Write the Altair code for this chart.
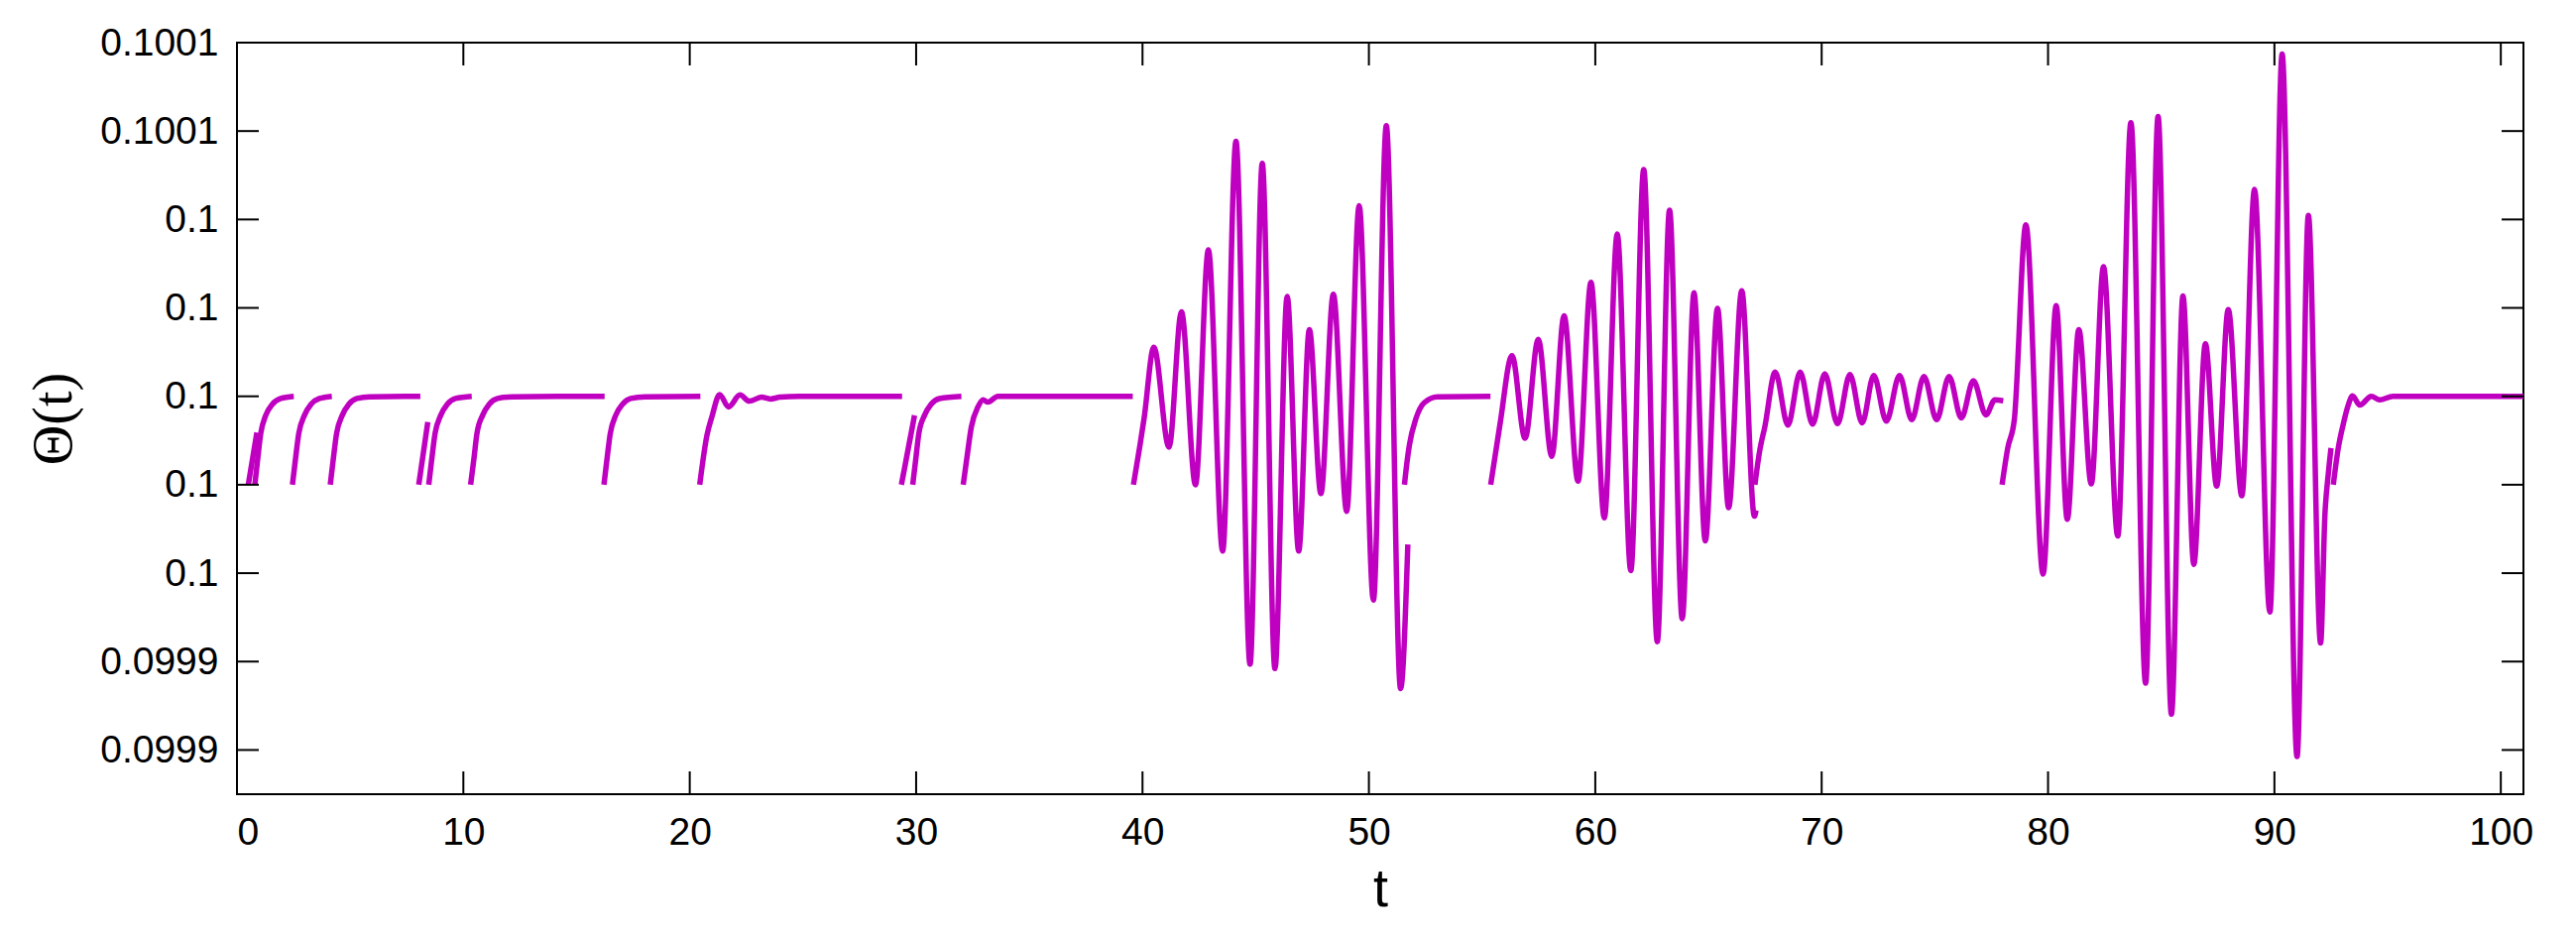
import altair as alt
import pandas as pd

# ---- data (t, Theta(t)), one list pair per drawn piece ----
S01_T = [0.50, 0.88]
S01_Y = [0.0999800, 0.0999918]

S02_T = [0.79, 0.91, 1.05, 1.27, 1.56, 1.93, 2.51]
S02_Y = [0.0999800, 0.0999856, 0.0999916, 0.0999957, 0.0999982, 0.0999995, 0.1000000]

S03_T = [2.45, 2.58, 2.73, 2.98, 3.27, 3.64, 4.19]
S03_Y = [0.0999800, 0.0999856, 0.0999916, 0.0999957, 0.0999982, 0.0999995, 0.1000000]

S04_T = [4.12, 4.25, 4.40, 4.65, 4.94, 5.30, 5.87, 8.10]
S04_Y = [0.0999800, 0.0999856, 0.0999916, 0.0999957, 0.0999982, 0.0999995, 0.0999999, 0.1000000]

S05_T = [8.03, 8.43]
S05_Y = [0.0999800, 0.0999942]

S06_T = [8.47, 8.60, 8.75, 9.00, 9.29, 9.65, 10.37]
S06_Y = [0.0999800, 0.0999856, 0.0999916, 0.0999957, 0.0999982, 0.0999995, 0.1000000]

S07_T = [10.32, 10.46, 10.60, 10.85, 11.14, 11.51, 12.15, 16.24]
S07_Y = [0.0999800, 0.0999856, 0.0999916, 0.0999957, 0.0999982, 0.0999995, 0.0999999, 0.1000000]

S08_T = [16.21, 16.34, 16.49, 16.73, 17.03, 17.39, 18.03, 20.47]
S08_Y = [0.0999800, 0.0999856, 0.0999916, 0.0999957, 0.0999982, 0.0999995, 0.0999999, 0.1000000]

S09_T = [20.44, 20.76, 20.98, 21.32, 21.71, 22.22, 22.63, 23.17, 23.56, 23.98, 24.85, 29.38]
S09_Y = [0.0999800, 0.0999912, 0.0999954, 0.1000004, 0.0999976, 0.1000003, 0.0999989,
         0.0999998, 0.0999994, 0.0999998, 0.1000000, 0.1000000]

S10_T = [29.35, 29.93]
S10_Y = [0.0999800, 0.0999957]

S11_T = [29.85, 29.98, 30.12, 30.37, 30.66, 31.03, 32.00]
S11_Y = [0.0999800, 0.0999856, 0.0999916, 0.0999957, 0.0999982, 0.0999995, 0.1000000]

S12_T = [32.08, 32.23, 32.44, 32.73, 32.96, 33.17, 33.61, 39.57]
S12_Y = [0.0999800, 0.0999856, 0.0999931, 0.0999976, 0.0999992, 0.0999987, 0.1000000, 0.1000000]

S13_T = [39.60, 39.89, 40.07, 40.50, 41.17, 41.72, 42.34, 42.91, 43.54, 44.13, 44.75, 45.29,
         45.85, 46.39, 46.90, 47.37, 47.88, 48.43, 49.02, 49.57, 50.20, 50.77, 51.40, 51.72]
S13_Y = [0.0999800, 0.0999890, 0.0999950, 0.1000111, 0.0999885, 0.1000191, 0.0999800, 0.1000331,
         0.0999650, 0.1000577, 0.0999394, 0.1000527, 0.0999384, 0.1000226, 0.0999650, 0.1000151,
         0.0999780, 0.1000231, 0.0999740, 0.1000431, 0.0999539, 0.1000612, 0.0999339, 0.0999665]

S14_T = [51.57, 51.68, 51.79, 52.08, 52.45, 53.03, 55.37]
S14_Y = [0.0999800, 0.0999850, 0.0999890, 0.0999950, 0.0999986, 0.0999999, 0.1000000]

S15_T = [55.38, 55.80, 56.32, 56.90, 57.48, 58.08, 58.62, 59.24, 59.81, 60.40, 60.97, 61.57,
         62.14, 62.74, 63.28, 63.84, 64.36, 64.86, 65.40, 65.89, 66.47, 67.03, 67.10]
S15_Y = [0.0999800, 0.0999940, 0.1000092, 0.0999905, 0.1000129, 0.0999864, 0.1000182, 0.0999808,
         0.1000258, 0.0999725, 0.1000367, 0.0999606, 0.1000513, 0.0999445, 0.1000421, 0.0999497,
         0.1000234, 0.0999673, 0.1000199, 0.0999748, 0.1000239, 0.0999729, 0.0999742]

S16_T = [67.05, 67.27, 67.49, 67.95, 68.51, 69.05, 69.60, 70.14, 70.70, 71.25, 71.79, 72.30,
         72.86, 73.44, 73.98, 74.52, 75.08, 75.63, 76.17, 76.70, 77.26, 77.65, 78.02]
S16_Y = [0.0999800, 0.0999879, 0.0999931, 0.1000055, 0.0999935, 0.1000055, 0.0999937, 0.1000051,
         0.0999938, 0.1000049, 0.0999940, 0.1000047, 0.0999944, 0.1000047, 0.0999947, 0.1000045,
         0.0999947, 0.1000045, 0.0999951, 0.1000035, 0.0999958, 0.0999992, 0.0999990]

S17_T = [77.97, 78.22, 78.51, 79.02, 79.78, 80.36, 80.85, 81.36, 81.91, 82.45, 83.08, 83.66,
         84.31, 84.86, 85.45, 85.96, 86.44, 86.95, 87.45, 87.96, 88.56, 89.12, 89.80, 90.34,
         91.00, 91.50, 92.04, 92.23, 92.38, 92.50]
S17_Y = [0.0999800, 0.0999883, 0.0999947, 0.1000388, 0.0999598, 0.1000205, 0.0999722, 0.1000151,
         0.0999802, 0.1000293, 0.0999684, 0.1000619, 0.0999351, 0.1000633, 0.0999281, 0.1000227,
         0.0999620, 0.1000119, 0.0999797, 0.1000196, 0.0999775, 0.1000468, 0.0999512, 0.1000774,
         0.0999185, 0.1000409, 0.0999442, 0.0999732, 0.0999825, 0.0999883]

S18_T = [92.60, 92.82, 93.04, 93.26, 93.45, 93.77, 94.28, 94.65, 95.23, 101.0]
S18_Y = [0.0999800, 0.0999883, 0.0999937, 0.0999980, 0.1000001, 0.0999980, 0.1000000,
         0.0999992, 0.1000000, 0.1000000]

X_TICKS = [0, 10, 20, 30, 40, 50, 60, 70, 80, 90, 100]
Y_TICKS = [0.09992, 0.09994, 0.09996, 0.09998, 0.1, 0.10002, 0.10004, 0.10006, 0.10008]

SEGMENTS = [
    (S01_T, S01_Y), (S02_T, S02_Y), (S03_T, S03_Y), (S04_T, S04_Y), (S05_T, S05_Y),
    (S06_T, S06_Y), (S07_T, S07_Y), (S08_T, S08_Y), (S09_T, S09_Y), (S10_T, S10_Y),
    (S11_T, S11_Y), (S12_T, S12_Y), (S13_T, S13_Y), (S14_T, S14_Y), (S15_T, S15_Y),
    (S16_T, S16_Y), (S17_T, S17_Y), (S18_T, S18_Y),
]

rows = []
for i, (ts, ys) in enumerate(SEGMENTS):
    for k, (t, y) in enumerate(zip(ts, ys)):
        rows.append({"seg": i, "ord": k, "t": t, "theta": y})
df = pd.DataFrame(rows)
xt = pd.DataFrame({"t": X_TICKS})
yt = pd.DataFrame({"theta": Y_TICKS})

W, H = 2306, 758
LINE_COLOR = "#c000c0"

x_scale = alt.Scale(domain=[0, 101], nice=False, zero=False)
y_scale = alt.Scale(domain=[0.09991, 0.10008], nice=False, zero=False)

X_AXIS = alt.Axis(
    values=X_TICKS, format="d", ticks=False, tickSize=0, domain=False, grid=False,
    labelFont="Liberation Sans", labelFontSize=39, labelColor="black", labelPadding=19,
    title="t", titleFont="Liberation Sans", titleFontSize=54, titleFontWeight="normal",
    titleColor="black", titleX=W / 2, titleY=112, titleAlign="center",
    titleBaseline="alphabetic",
)
Y_AXIS = alt.Axis(
    values=Y_TICKS, format=".4~f", ticks=False, tickSize=0, domain=False, grid=False,
    labelFont="Liberation Sans", labelFontSize=39, labelColor="black", labelPadding=19,
    title="Θ(t)", titleFont="Liberation Serif", titleFontSize=56, titleFontWeight="normal",
    titleColor="black", titleX=-185, titleY=H / 2, titleAngle=270, titleAlign="center",
    titleBaseline="middle",
)

line = alt.Chart(df).mark_line(
    color=LINE_COLOR, strokeWidth=5.5, interpolate="monotone", clip=True,
    strokeCap="butt", strokeJoin="round",
).encode(
    x=alt.X("t:Q", scale=x_scale, axis=X_AXIS),
    y=alt.Y("theta:Q", scale=y_scale, axis=Y_AXIS),
    detail="seg:N",
    order="ord:Q",
)

tick_style = dict(color="black", strokeWidth=2)
y_left = alt.Chart(yt).mark_rule(**tick_style).encode(
    y=alt.Y("theta:Q", scale=y_scale, axis=Y_AXIS), x=alt.value(0), x2=alt.value(22))
y_right = alt.Chart(yt).mark_rule(**tick_style).encode(
    y=alt.Y("theta:Q", scale=y_scale, axis=Y_AXIS), x=alt.value(W - 22), x2=alt.value(W))
x_bottom = alt.Chart(xt).mark_rule(**tick_style).encode(
    x=alt.X("t:Q", scale=x_scale, axis=X_AXIS), y=alt.value(H - 23), y2=alt.value(H))
x_top = alt.Chart(xt).mark_rule(**tick_style).encode(
    x=alt.X("t:Q", scale=x_scale, axis=X_AXIS), y=alt.value(0), y2=alt.value(23))

chart = alt.layer(line, y_left, y_right, x_bottom, x_top).properties(
    width=W, height=H,
    autosize=alt.AutoSizeParams(type="none"),
    padding={"left": 231, "top": 35, "right": 40, "bottom": 125},
    background="white",
).configure_view(stroke="black", strokeWidth=2)

chart.save("out.html", embed_options={"renderer": "svg", "actions": False})
